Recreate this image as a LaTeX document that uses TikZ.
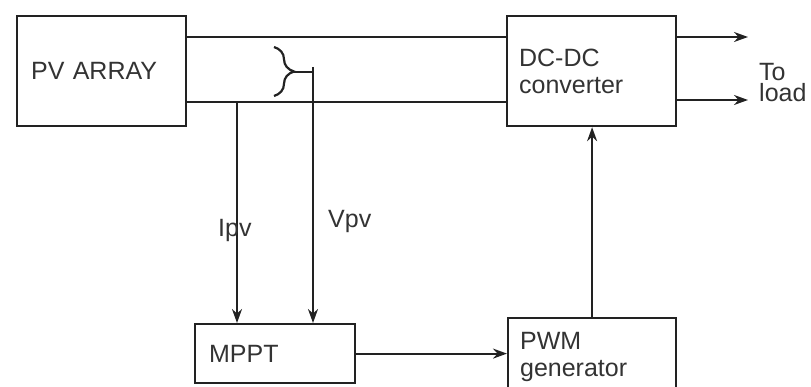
\documentclass[tikz,border=0pt]{standalone}
\usepackage{fontspec}
\setmainfont{Liberation Sans}
\usepackage{tikz}
\usetikzlibrary{arrows.meta,positioning,calc,decorations.pathreplacing}
\definecolor{wire}{HTML}{222222}
\definecolor{inktext}{HTML}{333333}
\tikzset{
  blockbox/.style={rectangle, draw=wire, line width=2.2pt, anchor=north west,
                   align=left, text=inktext, font=\fontsize{25}{27}\selectfont,
                   inner ysep=0pt},
  wirel/.style={draw=wire, line width=2.2pt},
  arr/.style={-{Stealth[length=14pt,width=10pt]}, line width=2.2pt, draw=wire},
  lbl/.style={text=inktext, font=\fontsize{25}{21}\selectfont, inner sep=0pt},
}
\begin{document}
\begin{tikzpicture}[x=1pt,y=-1pt]
  \useasboundingbox (0,0) rectangle (811,387);
  \node[blockbox, minimum width=169pt, minimum height=110pt, inner xsep=14pt, text width=141pt]
    (pv) at (16,15) {PV ARRAY};
  \node[blockbox, minimum width=169pt, minimum height=110pt, inner xsep=12pt, text width=145pt]
    (dcdc) at (506,15) {DC-DC\\converter};
  \node[blockbox, minimum width=160pt, minimum height=59pt, inner xsep=14pt, text width=132pt]
    (mppt) at (194,323) {MPPT};
  \node[blockbox, minimum width=168pt, minimum height=78pt, inner xsep=12pt, text width=144pt]
    (pwm) at (507,317) {PWM\\generator};

  \coordinate (ijunc) at (237,102);
  \coordinate (btop) at (274,47);
  \coordinate (bbot) at (274,96);
  \coordinate (btip) at (294,72);
  \coordinate (vtop) at (313,67);
  \coordinate (out1) at (748,37);
  \coordinate (out2) at (748,100);

  \draw[wirel] (pv.east |- out1) -- (dcdc.west |- out1);
  \draw[wirel] (pv.east |- ijunc) -- (dcdc.west |- ijunc);
  \draw[wirel, decorate, decoration={brace, amplitude=20pt}] (btop) -- (bbot);
  \draw[wirel] (btip) -- (btip -| vtop);
  \draw[arr] (vtop) -- (vtop |- mppt.north);
  \draw[arr] (ijunc) -- (ijunc |- mppt.north);
  \draw[arr] (mppt.east) -- (mppt.east -| pwm.west);
  \draw[arr] (pwm.north) -- (pwm.north |- dcdc.south);
  \draw[arr] (dcdc.east |- out1) -- (out1);
  \draw[arr] (dcdc.east |- out2) -- (out2);

  \node[lbl, anchor=base west] (ipv) at (218,237) {Ipv};
  \node[lbl, anchor=base west] (vpv) at (328,228) {Vpv};
  \node[lbl, anchor=north west, align=left] (load) at (759,63) {To\\load};
\end{tikzpicture}
\end{document}
